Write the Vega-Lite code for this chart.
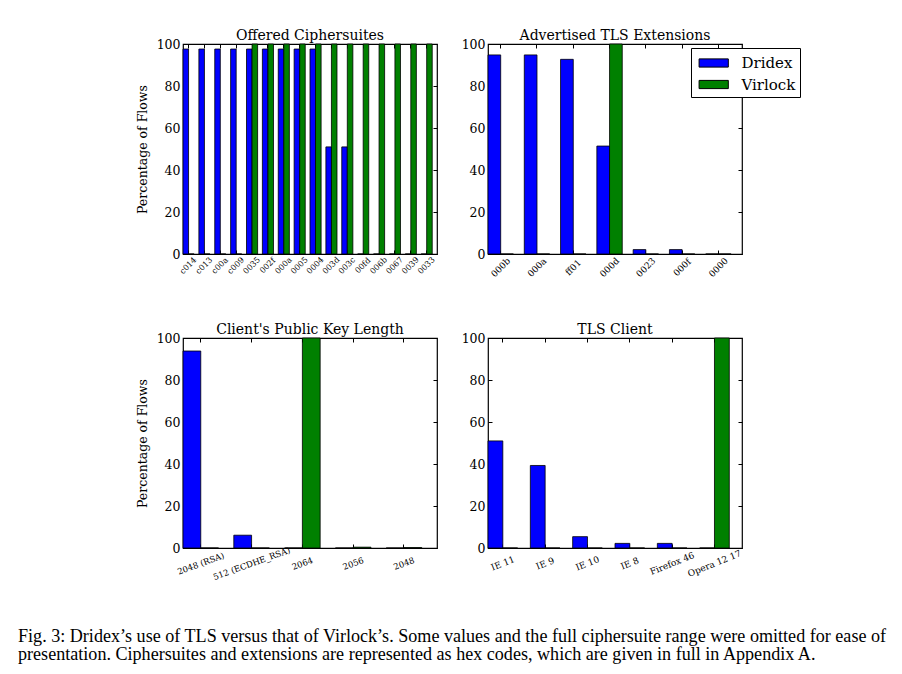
{
  "$schema": "https://vega.github.io/schema/vega-lite/v6.json",
  "background": "white",
  "padding": {"left": 18, "top": 28, "right": 5, "bottom": 5},
  "datasets": {
    "cipher": [
      {"item": "c014", "series": "Dridex", "pct": 97.6}, {"item": "c014", "series": "Virlock", "pct": 0},
      {"item": "c013", "series": "Dridex", "pct": 97.6}, {"item": "c013", "series": "Virlock", "pct": 0},
      {"item": "c00a", "series": "Dridex", "pct": 97.6}, {"item": "c00a", "series": "Virlock", "pct": 0},
      {"item": "c009", "series": "Dridex", "pct": 97.6}, {"item": "c009", "series": "Virlock", "pct": 0},
      {"item": "0035", "series": "Dridex", "pct": 97.6}, {"item": "0035", "series": "Virlock", "pct": 100},
      {"item": "002f", "series": "Dridex", "pct": 97.6}, {"item": "002f", "series": "Virlock", "pct": 100},
      {"item": "000a", "series": "Dridex", "pct": 97.6}, {"item": "000a", "series": "Virlock", "pct": 100},
      {"item": "0005", "series": "Dridex", "pct": 97.6}, {"item": "0005", "series": "Virlock", "pct": 100},
      {"item": "0004", "series": "Dridex", "pct": 97.6}, {"item": "0004", "series": "Virlock", "pct": 100},
      {"item": "003d", "series": "Dridex", "pct": 51}, {"item": "003d", "series": "Virlock", "pct": 100},
      {"item": "003c", "series": "Dridex", "pct": 51}, {"item": "003c", "series": "Virlock", "pct": 100},
      {"item": "00fd", "series": "Dridex", "pct": 0}, {"item": "00fd", "series": "Virlock", "pct": 100},
      {"item": "006b", "series": "Dridex", "pct": 0}, {"item": "006b", "series": "Virlock", "pct": 100},
      {"item": "0067", "series": "Dridex", "pct": 0}, {"item": "0067", "series": "Virlock", "pct": 100},
      {"item": "0039", "series": "Dridex", "pct": 0}, {"item": "0039", "series": "Virlock", "pct": 100},
      {"item": "0033", "series": "Dridex", "pct": 0}, {"item": "0033", "series": "Virlock", "pct": 100}
    ],
    "ext": [
      {"item": "000b", "series": "Dridex", "pct": 94.8}, {"item": "000b", "series": "Virlock", "pct": 0},
      {"item": "000a", "series": "Dridex", "pct": 94.8}, {"item": "000a", "series": "Virlock", "pct": 0},
      {"item": "ff01", "series": "Dridex", "pct": 92.7}, {"item": "ff01", "series": "Virlock", "pct": 0},
      {"item": "000d", "series": "Dridex", "pct": 51.4}, {"item": "000d", "series": "Virlock", "pct": 100},
      {"item": "0023", "series": "Dridex", "pct": 2.1}, {"item": "0023", "series": "Virlock", "pct": 0},
      {"item": "000f", "series": "Dridex", "pct": 2.1}, {"item": "000f", "series": "Virlock", "pct": 0},
      {"item": "0000", "series": "Dridex", "pct": 0}, {"item": "0000", "series": "Virlock", "pct": 0}
    ],
    "key": [
      {"item": "2048 (RSA)", "series": "Dridex", "pct": 93.8}, {"item": "2048 (RSA)", "series": "Virlock", "pct": 0},
      {"item": "512 (ECDHE_RSA)", "series": "Dridex", "pct": 6.1}, {"item": "512 (ECDHE_RSA)", "series": "Virlock", "pct": 0},
      {"item": "2064", "series": "Dridex", "pct": 0}, {"item": "2064", "series": "Virlock", "pct": 100},
      {"item": "2056", "series": "Dridex", "pct": 0}, {"item": "2056", "series": "Virlock", "pct": 0.4},
      {"item": "2048", "series": "Dridex", "pct": 0}, {"item": "2048", "series": "Virlock", "pct": 0.2}
    ],
    "client": [
      {"item": "IE 11", "series": "Dridex", "pct": 51}, {"item": "IE 11", "series": "Virlock", "pct": 0},
      {"item": "IE 9", "series": "Dridex", "pct": 39.3}, {"item": "IE 9", "series": "Virlock", "pct": 0},
      {"item": "IE 10", "series": "Dridex", "pct": 5.4}, {"item": "IE 10", "series": "Virlock", "pct": 0},
      {"item": "IE 8", "series": "Dridex", "pct": 2.2}, {"item": "IE 8", "series": "Virlock", "pct": 0},
      {"item": "Firefox 46", "series": "Dridex", "pct": 2.2}, {"item": "Firefox 46", "series": "Virlock", "pct": 0},
      {"item": "Opera 12 17", "series": "Dridex", "pct": 0}, {"item": "Opera 12 17", "series": "Virlock", "pct": 100}
    ]
  },
  "columns": 2,
  "bounds": "flush",
  "spacing": {"column": 51, "row": 84},
  "resolve": {"scale": {"color": "independent", "xOffset": "independent"}, "legend": {"color": "independent"}},
  "title": {
    "text": [
      "Fig. 3: Dridex’s use of TLS versus that of Virlock’s. Some values and the full ciphersuite range were omitted for ease of",
      "presentation. Ciphersuites and extensions are represented as hex codes, which are given in full in Appendix A."
    ],
    "orient": "bottom",
    "anchor": "start",
    "frame": "group",
    "dx": -165,
    "offset": 46,
    "font": "Liberation Serif",
    "fontSize": 18.1,
    "fontWeight": "normal",
    "color": "black",
    "lineHeight": 18
  },
  "concat": [
    {
      "width": 254, "height": 210,
      "title": "Offered Ciphersuites",
      "data": {"name": "cipher"},
      "layer": [
        {
          "mark": {"type": "bar", "stroke": "black", "strokeWidth": 0.8},
          "encoding": {
            "x": {"field": "item", "type": "nominal", "sort": null,
                  "scale": {"paddingInner": 0.3, "paddingOuter": 0.15, "align": 0},
                  "axis": {"title": null, "labelAngle": -45, "labelAlign": "center", "labelBaseline": "middle", "labelFontSize": 8, "tickSize": -4, "labelPadding": 15.5}},
            "xOffset": {"field": "series", "type": "nominal", "scale": {"domain": ["Dridex", "Virlock"], "range": [0, 11.11], "paddingInner": 0, "paddingOuter": 0}},
            "y": {"field": "pct", "type": "quantitative", "stack": null, "scale": {"domain": [0, 100]},
                  "axis": {"values": [0, 20, 40, 60, 80, 100], "tickSize": -4, "labelPadding": 7, "labelFontSize": 12.5, "title": "Percentage of Flows", "titleFontSize": 12.5, "titlePadding": 7}},
            "color": {"field": "series", "type": "nominal", "scale": {"domain": ["Dridex", "Virlock"], "range": ["#0000ff", "#008000"]}, "legend": null}
          }
        },
        {
          "mark": {"type": "bar", "fillOpacity": 0, "strokeOpacity": 0},
          "encoding": {
            "x": {"field": "item", "type": "nominal", "sort": null, "axis": {"orient": "top", "labels": false, "tickSize": -4, "title": null}},
            "y": {"field": "pct", "type": "quantitative", "stack": null, "scale": {"domain": [0, 100]}, "axis": {"orient": "right", "labels": false, "values": [0, 20, 40, 60, 80, 100], "tickSize": -4, "title": null}}
          }
        }
      ],
      "resolve": {"axis": {"x": "independent", "y": "independent"}}
    },
    {
      "width": 254, "height": 210,
      "title": "Advertised TLS Extensions",
      "data": {"name": "ext"},
      "layer": [
        {
          "mark": {"type": "bar", "stroke": "black", "strokeWidth": 0.8},
          "encoding": {
            "x": {"field": "item", "type": "nominal", "sort": null,
                  "scale": {"paddingInner": 0.3, "paddingOuter": 0.15, "align": 0},
                  "axis": {"title": null, "labelAngle": -45, "labelAlign": "center", "labelBaseline": "middle", "labelFontSize": 9, "tickSize": -4, "labelPadding": 17}},
            "xOffset": {"field": "series", "type": "nominal", "scale": {"domain": ["Dridex", "Virlock"], "range": [0, 25.4], "paddingInner": 0, "paddingOuter": 0}},
            "y": {"field": "pct", "type": "quantitative", "stack": null, "scale": {"domain": [0, 100]},
                  "axis": {"values": [0, 20, 40, 60, 80, 100], "tickSize": -4, "labelPadding": 7, "labelFontSize": 12.5, "title": null}},
            "color": {"field": "series", "type": "nominal", "scale": {"domain": ["Dridex", "Virlock"], "range": ["#0000ff", "#008000"]},
                      "legend": {"orient": "none", "legendX": 203, "legendY": 4, "title": null, "symbolType": "M-0.71,-0.42H2.29V0.42H-0.71Z", "symbolSize": 380, "symbolStrokeColor": "black", "symbolStrokeWidth": 1, "symbolOpacity": 1, "labelFont": "DejaVu Serif", "labelFontSize": 15, "labelColor": "black", "labelOffset": 25, "strokeColor": "black", "fillColor": "white", "padding": 4.5, "rowPadding": 2.5, "cornerRadius": 0, "labelLimit": 200}}
          }
        },
        {
          "mark": {"type": "bar", "fillOpacity": 0, "strokeOpacity": 0},
          "encoding": {
            "x": {"field": "item", "type": "nominal", "sort": null, "axis": {"orient": "top", "labels": false, "tickSize": -4, "title": null}},
            "y": {"field": "pct", "type": "quantitative", "stack": null, "scale": {"domain": [0, 100]}, "axis": {"orient": "right", "labels": false, "values": [0, 20, 40, 60, 80, 100], "tickSize": -4, "title": null}}
          }
        }
      ],
      "resolve": {"axis": {"x": "independent", "y": "independent"}}
    },
    {
      "width": 254, "height": 210,
      "title": "Client's Public Key Length",
      "data": {"name": "key"},
      "layer": [
        {
          "mark": {"type": "bar", "stroke": "black", "strokeWidth": 0.8},
          "encoding": {
            "x": {"field": "item", "type": "nominal", "sort": null,
                  "scale": {"paddingInner": 0.3, "paddingOuter": 0.15, "align": 0},
                  "axis": {"title": null, "labelAngle": -20, "labelAlign": "center", "labelBaseline": "middle", "labelFontSize": 8.5, "tickSize": -4, "labelPadding": 19,
                           "encode": {"labels": {"update": {"dy": {"signal": "0.85*length(datum.label)"}, "dx": {"signal": "-0.3*length(datum.label)"}}}}}},
            "xOffset": {"field": "series", "type": "nominal", "scale": {"domain": ["Dridex", "Virlock"], "range": [0, 35.56], "paddingInner": 0, "paddingOuter": 0}},
            "y": {"field": "pct", "type": "quantitative", "stack": null, "scale": {"domain": [0, 100]},
                  "axis": {"values": [0, 20, 40, 60, 80, 100], "tickSize": -4, "labelPadding": 7, "labelFontSize": 12.5, "title": "Percentage of Flows", "titleFontSize": 12.5, "titlePadding": 7}},
            "color": {"field": "series", "type": "nominal", "scale": {"domain": ["Dridex", "Virlock"], "range": ["#0000ff", "#008000"]}, "legend": null}
          }
        },
        {
          "mark": {"type": "bar", "fillOpacity": 0, "strokeOpacity": 0},
          "encoding": {
            "x": {"field": "item", "type": "nominal", "sort": null, "axis": {"orient": "top", "labels": false, "tickSize": -4, "title": null}},
            "y": {"field": "pct", "type": "quantitative", "stack": null, "scale": {"domain": [0, 100]}, "axis": {"orient": "right", "labels": false, "values": [0, 20, 40, 60, 80, 100], "tickSize": -4, "title": null}}
          }
        }
      ],
      "resolve": {"axis": {"x": "independent", "y": "independent"}}
    },
    {
      "width": 254, "height": 210,
      "title": "TLS Client",
      "data": {"name": "client"},
      "layer": [
        {
          "mark": {"type": "bar", "stroke": "black", "strokeWidth": 0.8},
          "encoding": {
            "x": {"field": "item", "type": "nominal", "sort": null,
                  "scale": {"paddingInner": 0.3, "paddingOuter": 0.15, "align": 0},
                  "axis": {"title": null, "labelAngle": -22, "labelAlign": "center", "labelBaseline": "middle", "labelFontSize": 9, "tickSize": -4, "labelPadding": 19,
                           "encode": {"labels": {"update": {"dy": {"signal": "0.9*length(datum.label)"}, "dx": {"signal": "-0.3*length(datum.label)"}}}}}},
            "xOffset": {"field": "series", "type": "nominal", "scale": {"domain": ["Dridex", "Virlock"], "range": [0, 29.63], "paddingInner": 0, "paddingOuter": 0}},
            "y": {"field": "pct", "type": "quantitative", "stack": null, "scale": {"domain": [0, 100]},
                  "axis": {"values": [0, 20, 40, 60, 80, 100], "tickSize": -4, "labelPadding": 7, "labelFontSize": 12.5, "title": null}},
            "color": {"field": "series", "type": "nominal", "scale": {"domain": ["Dridex", "Virlock"], "range": ["#0000ff", "#008000"]}, "legend": null}
          }
        },
        {
          "mark": {"type": "bar", "fillOpacity": 0, "strokeOpacity": 0},
          "encoding": {
            "x": {"field": "item", "type": "nominal", "sort": null, "axis": {"orient": "top", "labels": false, "tickSize": -4, "title": null}},
            "y": {"field": "pct", "type": "quantitative", "stack": null, "scale": {"domain": [0, 100]}, "axis": {"orient": "right", "labels": false, "values": [0, 20, 40, 60, 80, 100], "tickSize": -4, "title": null}}
          }
        }
      ],
      "resolve": {"axis": {"x": "independent", "y": "independent"}}
    }
  ],
  "config": {
    "font": "DejaVu Serif",
    "view": {"stroke": "black", "strokeWidth": 1.2},
    "axis": {"domain": false, "grid": false, "labelColor": "black", "labelFont": "DejaVu Serif", "tickColor": "black", "tickWidth": 1, "titleColor": "black", "titleFont": "DejaVu Serif", "titleFontWeight": "normal"},
    "title": {"font": "DejaVu Serif", "fontSize": 14, "fontWeight": "normal", "color": "black", "offset": -5}
  }
}
